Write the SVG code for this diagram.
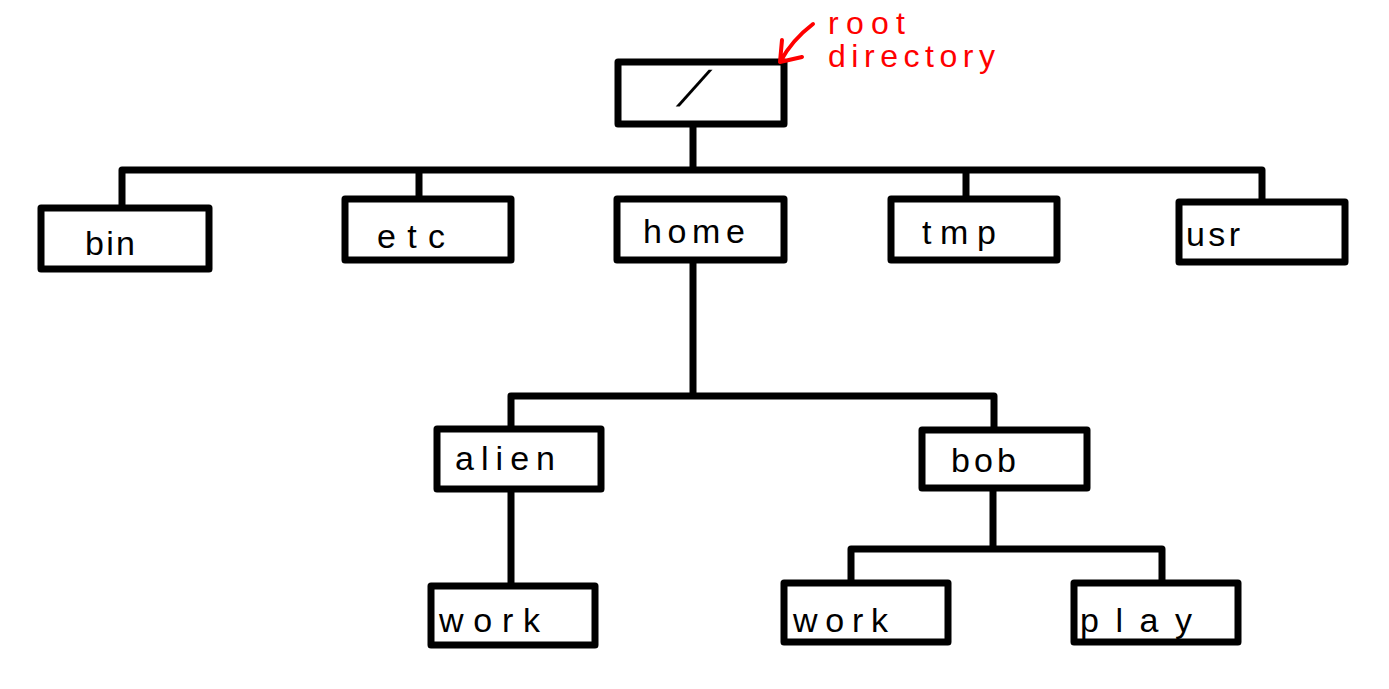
<svg xmlns="http://www.w3.org/2000/svg" width="1389" height="689" viewBox="0 0 1389 689">
<style>
.box{fill:#fff;stroke:#000;stroke-width:7;stroke-linejoin:round}
.con{fill:none;stroke:#000;stroke-width:7;stroke-linecap:round;stroke-linejoin:round}
.lbl{font-family:"Liberation Sans",Arial,sans-serif;font-size:34px;fill:#000}
.note{font-family:"Liberation Sans",Arial,sans-serif;font-size:32px;fill:#f00}
.ann{fill:none;stroke:#f00;stroke-width:4;stroke-linecap:round;stroke-linejoin:round}
</style>
<rect width="1389" height="689" fill="#fff"/>
<g id="connectors">
<path class="con" d="M693 126V168M122 206V170H1262V200M419 170V198M966 170V198"/>
<path class="con" d="M693 262V396M511 428V396H994V428"/>
<path class="con" d="M511 490V584"/>
<path class="con" d="M993 490V549M851 582V549H1162V581"/>
</g>
<g id="root">
<rect class="box" x="618" y="62" width="166" height="62"/>
<text class="lbl" x="676" y="106" style="font-size:50px" transform="translate(676 106) skewX(-32) translate(-676 -106)">/</text>
</g>
<g id="bin"><rect class="box" x="41" y="208" width="168" height="61"/><text class="lbl" x="85" y="255" textLength="50" lengthAdjust="spacing">bin</text></g>
<g id="etc"><rect class="box" x="345" y="199" width="166" height="61"/><text class="lbl" x="377" y="248" textLength="68" lengthAdjust="spacing">etc</text></g>
<g id="home"><rect class="box" x="617" y="199" width="167" height="61"/><text class="lbl" x="643" y="243" textLength="102" lengthAdjust="spacing">home</text></g>
<g id="tmp"><rect class="box" x="891" y="199" width="166" height="61"/><text class="lbl" x="922" y="244" textLength="74" lengthAdjust="spacing">tmp</text></g>
<g id="usr"><rect class="box" x="1179" y="202" width="166" height="60"/><text class="lbl" x="1186" y="246" textLength="54" lengthAdjust="spacing">usr</text></g>
<g id="alien"><rect class="box" x="437" y="429" width="164" height="60"/><text class="lbl" x="455" y="470" textLength="100" lengthAdjust="spacing">alien</text></g>
<g id="bob"><rect class="box" x="922" y="430" width="165" height="58"/><text class="lbl" x="951" y="472" textLength="65" lengthAdjust="spacing">bob</text></g>
<g id="work-alien"><rect class="box" x="431" y="586" width="164" height="59"/><text class="lbl" x="439" y="632" textLength="101" lengthAdjust="spacing">work</text></g>
<g id="work-bob"><rect class="box" x="784" y="583" width="164" height="59"/><text class="lbl" x="793" y="632" textLength="95" lengthAdjust="spacing">work</text></g>
<g id="play"><rect class="box" x="1074" y="583" width="164" height="59"/><text class="lbl" x="1080" y="632" textLength="112" lengthAdjust="spacing">play</text></g>
<g id="annotation">
<path class="ann" d="M813 24Q792 40 780 62M782 40L780 62L802 57"/>
<text class="note" x="828" y="34" textLength="77" lengthAdjust="spacing">root</text>
<text class="note" x="828" y="67" textLength="167" lengthAdjust="spacing">directory</text>
</g>
</svg>
